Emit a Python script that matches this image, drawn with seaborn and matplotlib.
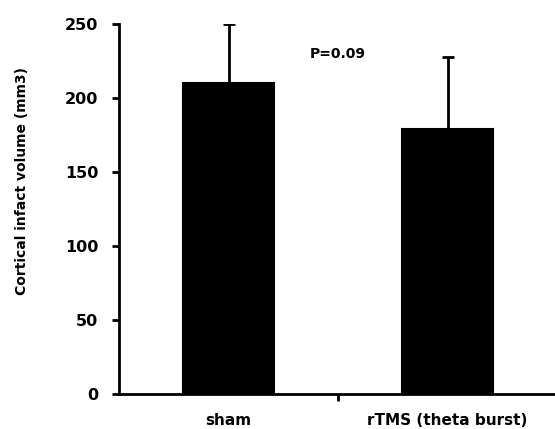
import matplotlib
matplotlib.use("Agg")
import matplotlib.pyplot as plt
import seaborn as sns
import pandas as pd

categories = ["sham", "rTMS (theta burst)"]
means = [210, 179]
errors = [40, 49]
yticks = [0, 50, 100, 150, 200, 250]
p_text = "P=0.09"

sns.set_style("ticks")
plt.rcParams["font.family"] = ["DejaVu Sans"]
plt.rcParams["text.color"] = "black"
plt.rcParams["axes.labelcolor"] = "black"
plt.rcParams["xtick.color"] = "black"
plt.rcParams["ytick.color"] = "black"
plt.rcParams["axes.edgecolor"] = "black"

fig = plt.figure(figsize=(5.55, 4.29), dpi=100)
ax = fig.add_axes([119/555, 1-394/429, 438/555, 370/429])

df = pd.DataFrame({"group": categories, "value": means})
sns.barplot(data=df, x="group", y="value", color="black", width=0.415,
            errorbar=None, ax=ax, edgecolor="black", linewidth=1.5,
            saturation=1, zorder=2)
ax.errorbar(range(len(categories)), means, yerr=[[0]*len(errors), errors],
            fmt="none", ecolor="black", elinewidth=2, capsize=4, capthick=2,
            zorder=1)

ax.set_xlim(-0.5, 1.5)
ax.set_ylim(0, 250)
ax.set_yticks(yticks)
ax.set_yticklabels([str(t) for t in yticks], fontsize=11.5, fontweight="bold")
ax.set_xticks(range(len(categories)))
ax.set_xticklabels(categories, fontsize=11, fontweight="bold")
ax.set_xticks([0.5], minor=True)
ax.tick_params(axis="x", which="major", length=0, pad=14)
ax.tick_params(axis="x", which="minor", length=5, width=2)
ax.tick_params(axis="y", length=5, width=2, pad=10)

ax.set_xlabel("")
ax.set_ylabel("Cortical infact volume (mm3)", fontsize=10, fontweight="bold")
ax.yaxis.set_label_coords(-0.206, 0.576)

for s in ["top", "right"]:
    ax.spines[s].set_visible(False)
for s in ["left", "bottom"]:
    ax.spines[s].set_linewidth(2)
    ax.spines[s].set_color("black")
    ax.spines[s].set_zorder(3)

ax.text(0.5, 230, p_text, ha="center", va="center", fontsize=10, fontweight="bold")

fig.savefig("out.png", dpi=100)
